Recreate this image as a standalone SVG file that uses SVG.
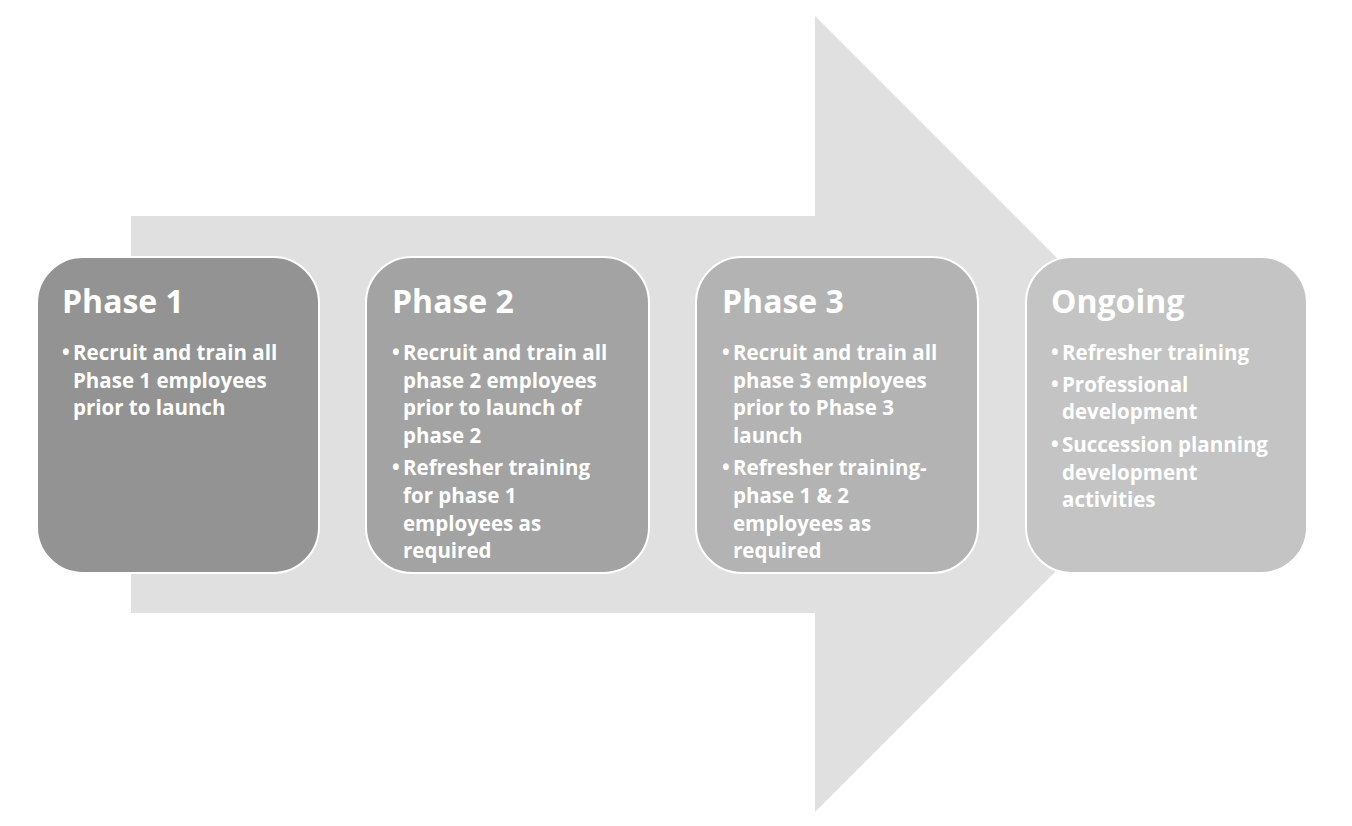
<svg xmlns="http://www.w3.org/2000/svg" width="1352" height="826" viewBox="0 0 1352 826">
<style>
.box{stroke:#ffffff;stroke-width:2}
.t{font-family:"Open Sans",Lato,sans-serif;font-weight:bold;fill:#ffffff}
.h{font-size:32px}
.b{font-size:20.5px}
</style>
<rect width="1352" height="826" fill="#ffffff"/>
<g id="arrow">
<polygon points="131,216 815,216 815,16 1213,414 815,812 815,613 131,613" fill="#e0e0e0"/>
</g>
<g id="phase1">
<rect class="box" x="37" y="257" width="282" height="316" rx="46" fill="#939393"/>
<text class="t h" x="62" y="313">Phase 1</text>
<text class="t b"><tspan x="62" y="360">•</tspan><tspan x="73" y="360">Recruit and train all</tspan><tspan x="73" y="388">Phase 1 employees</tspan><tspan x="73" y="415">prior to launch</tspan></text>
</g>
<g id="phase2">
<rect class="box" x="366" y="257" width="283" height="316" rx="46" fill="#a3a3a3"/>
<text class="t h" x="392" y="313">Phase 2</text>
<text class="t b"><tspan x="392" y="360">•</tspan><tspan x="403" y="360">Recruit and train all</tspan><tspan x="403" y="388">phase 2 employees</tspan><tspan x="403" y="415">prior to launch of</tspan><tspan x="403" y="443">phase 2</tspan><tspan x="392" y="475">•</tspan><tspan x="403" y="475">Refresher training</tspan><tspan x="403" y="503">for phase 1</tspan><tspan x="403" y="531">employees as</tspan><tspan x="403" y="558">required</tspan></text>
</g>
<g id="phase3">
<rect class="box" x="696" y="257" width="282" height="316" rx="46" fill="#b3b3b3"/>
<text class="t h" x="722" y="313">Phase 3</text>
<text class="t b"><tspan x="722" y="360">•</tspan><tspan x="733" y="360">Recruit and train all</tspan><tspan x="733" y="388">phase 3 employees</tspan><tspan x="733" y="415">prior to Phase 3</tspan><tspan x="733" y="443">launch</tspan><tspan x="722" y="475">•</tspan><tspan x="733" y="475">Refresher training-</tspan><tspan x="733" y="503">phase 1 &amp; 2</tspan><tspan x="733" y="531">employees as</tspan><tspan x="733" y="558">required</tspan></text>
</g>
<g id="ongoing">
<rect class="box" x="1026" y="257" width="281" height="316" rx="46" fill="#c4c4c4"/>
<text class="t h" x="1051" y="313">Ongoing</text>
<text class="t b"><tspan x="1051" y="360">•</tspan><tspan x="1062" y="360">Refresher training</tspan><tspan x="1051" y="392">•</tspan><tspan x="1062" y="392">Professional</tspan><tspan x="1062" y="419">development</tspan><tspan x="1051" y="452">•</tspan><tspan x="1062" y="452">Succession planning</tspan><tspan x="1062" y="480">development</tspan><tspan x="1062" y="507">activities</tspan></text>
</g>
<g id="connectors"></g>
</svg>
